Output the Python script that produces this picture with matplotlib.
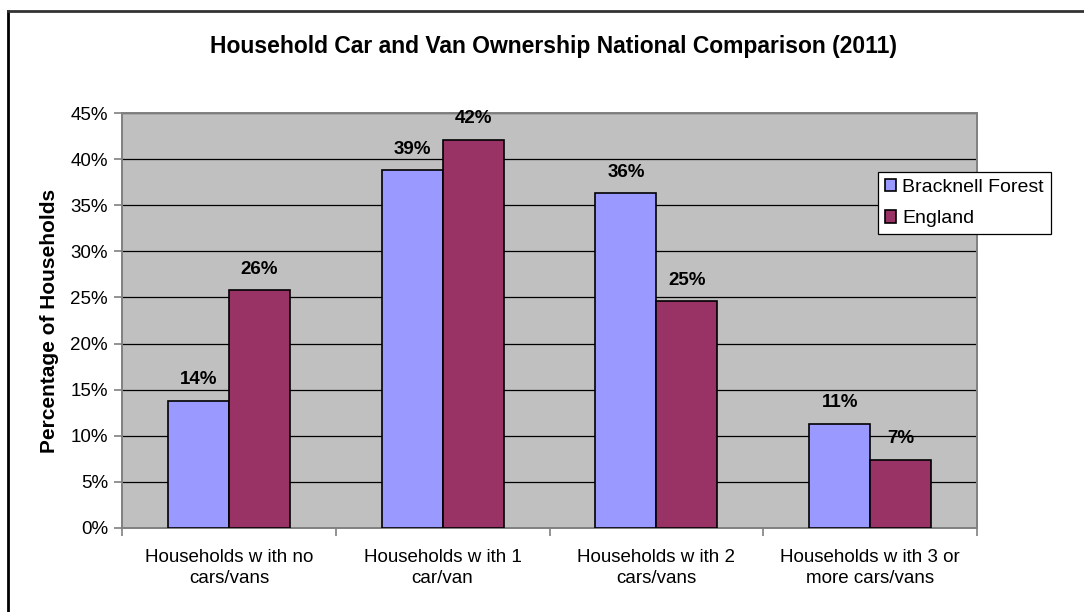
import numpy as np
import matplotlib
matplotlib.use("Agg")
import matplotlib.pyplot as plt
from matplotlib.lines import Line2D
from matplotlib.ticker import FuncFormatter, MultipleLocator

plt.rcParams['font.family'] = ['Liberation Sans', 'DejaVu Sans']

categories = [
    "Households w ith no\ncars/vans",
    "Households w ith 1\ncar/van",
    "Households w ith 2\ncars/vans",
    "Households w ith 3 or\nmore cars/vans",
]
series_names = ["Bracknell Forest", "England"]
bracknell = [13.8, 38.8, 36.3, 11.3]
england = [25.8, 42.1, 24.6, 7.4]
colors = ["#9999FF", "#993366"]

W, H = 1084, 612
fig = plt.figure(figsize=(W / 100, H / 100), dpi=100)
ax = fig.add_axes([122 / W, 1 - 528 / H, (977 - 122) / W, (528 - 113) / H])
ax.set_facecolor("#C0C0C0")

x = np.arange(len(categories))
bw = 0.285
for i, (vals, name, col) in enumerate(zip([bracknell, england], series_names, colors)):
    pos = x + (i - 0.5) * bw
    ax.bar(pos, vals, width=bw, color=col, edgecolor="black", linewidth=1.2,
           label=name, zorder=3)
    for px, v in zip(pos, vals):
        ax.annotate(f"{v:.0f}%", (px, v), xytext=(0, 9), textcoords="offset points",
                    ha="center", va="bottom", fontsize=13.5, fontweight="bold")

ax.set_xlim(-0.5, len(categories) - 0.5)
ax.set_ylim(0, 45)
ax.yaxis.set_major_locator(MultipleLocator(5))
ax.yaxis.set_major_formatter(FuncFormatter(lambda v, p: f"{v:.0f}%"))
ax.grid(axis="y", color="black", linewidth=0.9, zorder=1)
ax.set_axisbelow(True)

ax.set_xticks(x)
ax.set_xticklabels(categories, fontsize=13.5, linespacing=1.35)
ax.set_xticks(np.arange(len(categories) + 1) - 0.5, minor=True)
ax.tick_params(axis="x", which="major", length=0, pad=15)
ax.tick_params(axis="x", which="minor", length=6, color="#808080", width=1.2)
ax.tick_params(axis="y", length=6, color="#808080", width=1.2, labelsize=13.5, pad=4)
for s in ax.spines.values():
    s.set_color("#808080")
    s.set_linewidth(1.4)

ax.set_ylabel("Percentage of Households", fontsize=15, fontweight="bold", labelpad=8)
fig.text(553 / W, 1 - 47 / H, "Household Car and Van Ownership National Comparison (2011)",
         ha="center", va="center", fontsize=16.5, fontweight="bold")

leg = ax.legend(loc="upper left", bbox_to_anchor=(878 / W, 1 - 172 / H),
                bbox_transform=fig.transFigure, fontsize=14, frameon=True,
                fancybox=False, edgecolor="black", framealpha=1,
                handlelength=0.6, handleheight=0.6, handletextpad=0.3,
                borderpad=0.35, labelspacing=0.75, borderaxespad=0)
leg.get_frame().set_linewidth(0.9)

fig.add_artist(Line2D([7.5 / W, 7.5 / W], [0, 1 - 10.5 / H], transform=fig.transFigure,
                      color="black", linewidth=2))
fig.add_artist(Line2D([7.5 / W, 1], [1 - 10.5 / H, 1 - 10.5 / H], transform=fig.transFigure,
                      color="#333333", linewidth=2))

fig.savefig("out.png", dpi=100)
